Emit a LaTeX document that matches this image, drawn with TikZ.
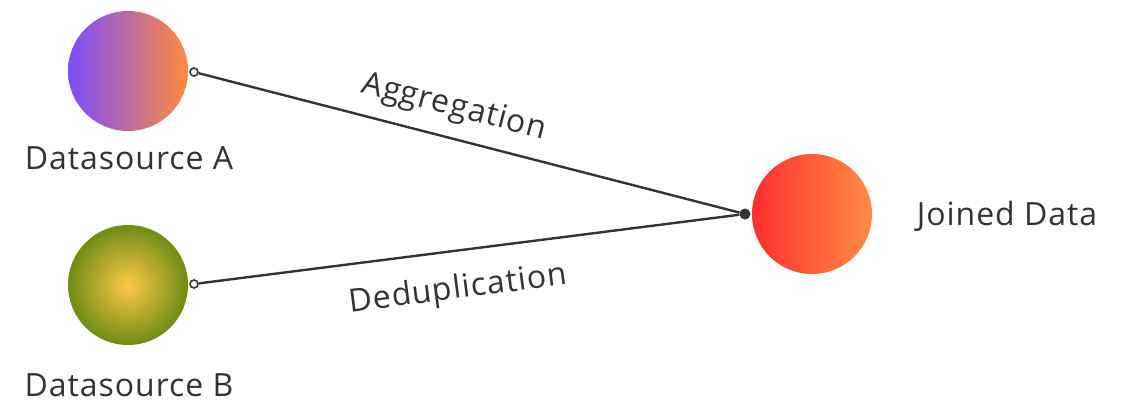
\documentclass[tikz,border=0pt]{standalone}
\usepackage{fontspec}
\setmainfont{Open Sans}[LetterSpace=3]
\usetikzlibrary{shapes.geometric}
\definecolor{ink}{HTML}{333333}
\definecolor{apurple}{HTML}{7B4DFF}
\definecolor{aorange}{HTML}{FF8A3D}
\definecolor{jred}{HTML}{FF2F2F}
\definecolor{jorange}{HTML}{FF8C45}
\definecolor{bcenter}{HTML}{FFC84A}
\definecolor{bouter}{HTML}{6E8C14}
\tikzset{
  blob/.style={circle, minimum size=120pt, inner sep=0pt},
  port/.style={circle, draw=ink, fill=white, line width=1.6pt, minimum size=8pt, inner sep=0pt},
  dotport/.style={circle, fill=ink, minimum size=11pt, inner sep=0pt},
  link/.style={draw=ink, line width=2.4pt},
  lbl/.style={text=ink, font=\fontsize{32}{38}\selectfont, inner sep=0pt}
}
\begin{document}
\begin{tikzpicture}[x=1pt,y=-1pt]
\useasboundingbox (0,0) rectangle (1142,410);
\node[blob, left color=apurple, right color=aorange] (A) at (128,71) {};
\node[blob, inner color=bcenter, outer color=bouter] (B) at (128,285) {};
\node[blob, left color=jred, right color=jorange] (J) at (812,214) {};
\node[lbl] (tA) at (129,158) {Datasource A};
\node[lbl] (tB) at (129,385) {Datasource B};
\node[lbl] (tJ) at (1007,216) {Joined Data};
\node[port] (pa) at (194,72) {};
\node[port] (pb) at (194,284) {};
\node[dotport] (pj) at (745,214) {};
\draw[link] (pa) -- (pj);
\draw[link] (pb) -- (pj);
\node[lbl, rotate=-14.45] (la) at (454,108) {Aggregation};
\node[lbl, rotate=7.24] (lb) at (458,290) {Deduplication};
\end{tikzpicture}
\end{document}
